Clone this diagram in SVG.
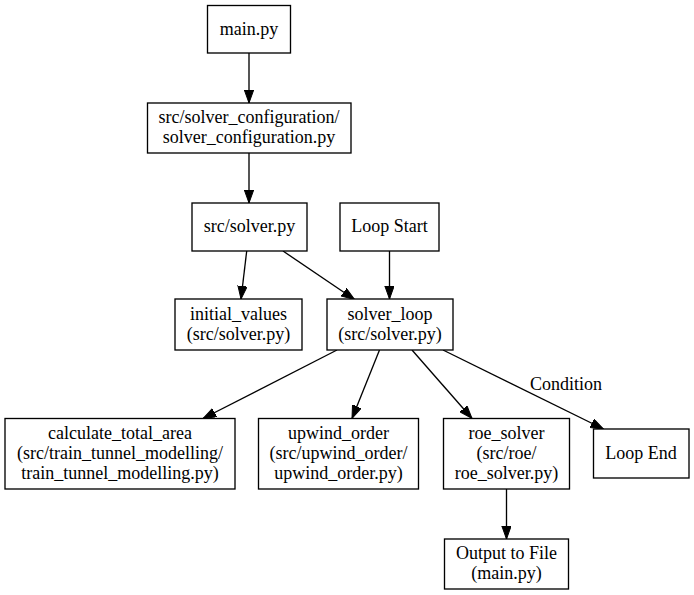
<svg xmlns="http://www.w3.org/2000/svg" width="694" height="595" viewBox="0 0 694 595">
<style>
rect{fill:#fff;stroke:#000;stroke-width:1.33}
text{font-family:'Liberation Serif','Times New Roman',Times,serif;font-size:18px;fill:#000;text-anchor:middle}
.e{stroke:#000;stroke-width:1.33;fill:none;marker-end:url(#ah)}
</style>
<defs>
<marker id="ah" markerUnits="userSpaceOnUse" markerWidth="14" markerHeight="10" refX="13" refY="4.67" orient="auto">
<path d="M0,0 L13,4.67 L0,9.33 z" fill="#000" stroke="#000" stroke-width="1"/>
</marker>
</defs>
<rect x="0" y="0" width="694" height="595" style="fill:#fff;stroke:none"/>
<g id="edges">
<line class="e" x1="249" y1="53" x2="249" y2="103"/>
<line class="e" x1="249" y1="153" x2="249" y2="203"/>
<line class="e" x1="246.7" y1="251" x2="241" y2="299"/>
<line class="e" x1="283" y1="251" x2="354.5" y2="299.5"/>
<line class="e" x1="389.5" y1="251" x2="389.5" y2="299"/>
<line class="e" x1="337" y1="350" x2="203" y2="418.5"/>
<line class="e" x1="379.5" y1="350" x2="352" y2="418.5"/>
<line class="e" x1="412" y1="350" x2="472" y2="418.5"/>
<line class="e" x1="443" y1="350" x2="603.5" y2="429"/>
<text x="566" y="390" font-family="Liberation Serif, serif">Condition</text>
<line class="e" x1="506.5" y1="489" x2="506.5" y2="539"/>
</g>
<g id="main"><rect x="207.5" y="5.5" width="83" height="47.5"/><text x="249" y="34.5">main.py</text></g>
<g id="config"><rect x="147.5" y="103" width="203.5" height="50"/><text x="249" y="123">src/solver_configuration/</text><text x="249" y="143">solver_configuration.py</text></g>
<g id="solver"><rect x="192" y="203" width="115" height="48"/><text x="249.5" y="232">src/solver.py</text></g>
<g id="loopstart"><rect x="340" y="203" width="99" height="48"/><text x="389.5" y="232">Loop Start</text></g>
<g id="initial"><rect x="175" y="299" width="127" height="51"/><text x="238.5" y="319.5">initial_values</text><text x="238.5" y="339.5">(src/solver.py)</text></g>
<g id="solverloop"><rect x="327" y="299" width="126" height="51"/><text x="390" y="319.5">solver_loop</text><text x="390" y="339.5">(src/solver.py)</text></g>
<g id="calc"><rect x="5" y="418.5" width="230" height="70.5"/><text x="120" y="439">calculate_total_area</text><text x="120" y="459">(src/train_tunnel_modelling/</text><text x="120" y="479">train_tunnel_modelling.py)</text></g>
<g id="upwind"><rect x="258.5" y="418.5" width="160" height="70.5"/><text x="338.5" y="439">upwind_order</text><text x="338.5" y="459">(src/upwind_order/</text><text x="338.5" y="479">upwind_order.py)</text></g>
<g id="roe"><rect x="443.5" y="418.5" width="126" height="70.5"/><text x="506.5" y="439">roe_solver</text><text x="506.5" y="459">(src/roe/</text><text x="506.5" y="479">roe_solver.py)</text></g>
<g id="loopend"><rect x="593.5" y="429" width="95.5" height="49"/><text x="641" y="459">Loop End</text></g>
<g id="output"><rect x="444.5" y="539" width="124" height="50"/><text x="506.5" y="559">Output to File</text><text x="506.5" y="579">(main.py)</text></g>
</svg>
